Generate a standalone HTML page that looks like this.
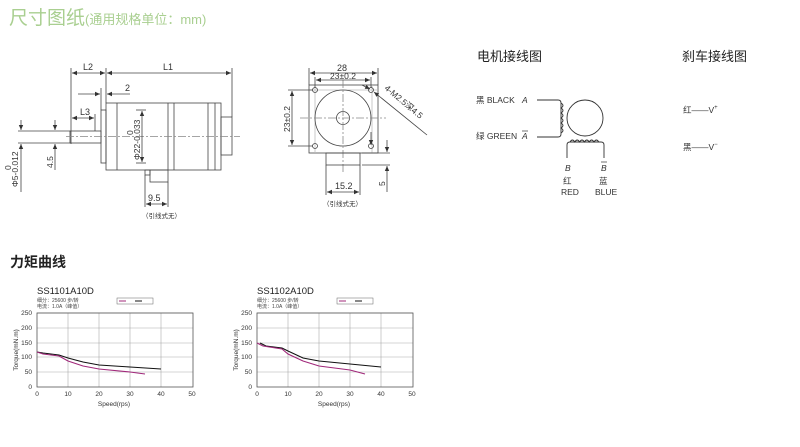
<!DOCTYPE html>
<html><head><meta charset="utf-8"><style>
html,body{margin:0;padding:0;background:#fff;width:800px;height:447px;overflow:hidden}
svg{display:block}
text{font-family:"Liberation Sans","Noto Sans CJK SC",sans-serif}
</style></head><body>
<svg width="800" height="447" viewBox="0 0 800 447" xmlns="http://www.w3.org/2000/svg">
<defs>
<marker id="a" markerWidth="6" markerHeight="6" refX="5" refY="3" orient="auto-start-reverse" markerUnits="userSpaceOnUse"><path d="M0,0.8 L5,3 L0,5.2z" fill="#333"/></marker>
</defs>
<!-- title -->
<text x="9" y="24" font-size="19" fill="#a9cf90">尺寸图纸<tspan font-size="13">(通用规格单位：mm)</tspan></text>

<g stroke="#444" stroke-width="0.8" fill="none">
<!-- side view -->
<line x1="71" y1="68" x2="71" y2="144"/>
<line x1="106" y1="68" x2="106" y2="103"/>
<line x1="232" y1="68" x2="232" y2="117"/>
<line x1="72" y1="73" x2="105" y2="73" marker-start="url(#a)" marker-end="url(#a)"/>
<line x1="107" y1="73" x2="231" y2="73" marker-start="url(#a)" marker-end="url(#a)"/>
<line x1="101" y1="88" x2="101" y2="110"/>
<line x1="78" y1="94" x2="100" y2="94" marker-end="url(#a)"/>
<line x1="130" y1="94" x2="107" y2="94" marker-end="url(#a)"/>
<line x1="72" y1="118" x2="94" y2="118" marker-start="url(#a)" marker-end="url(#a)"/>
<line x1="95" y1="114" x2="95" y2="131"/>
<rect x="101" y="110" width="5" height="53"/>
<rect x="106" y="103" width="115" height="67"/>
<line x1="117" y1="103" x2="117" y2="170"/>
<line x1="168" y1="103" x2="168" y2="170"/>
<line x1="174" y1="103" x2="174" y2="170"/>
<line x1="208" y1="103" x2="208" y2="170"/>
<line x1="215" y1="103" x2="215" y2="170"/>
<rect x="221" y="117" width="11" height="38"/>
<rect x="70" y="131" width="31" height="12"/>
<line x1="66" y1="136.5" x2="240" y2="136.5" stroke-dasharray="8,2,2,2" stroke="#888"/>
<line x1="18" y1="131" x2="70" y2="131"/>
<line x1="18" y1="143" x2="70" y2="143"/>
<line x1="21" y1="120" x2="21" y2="130" marker-end="url(#a)"/>
<line x1="21" y1="192" x2="21" y2="144" marker-end="url(#a)"/>
<line x1="55" y1="120" x2="55" y2="130" marker-end="url(#a)"/>
<line x1="55" y1="170" x2="55" y2="144" marker-end="url(#a)"/>
<line x1="142" y1="111" x2="142" y2="162" marker-start="url(#a)" marker-end="url(#a)"/>
<line x1="136" y1="110" x2="146" y2="110"/><line x1="136" y1="163" x2="146" y2="163"/>
<rect x="150" y="170" width="18" height="12"/>
<rect x="145" y="170" width="5" height="5"/>
<line x1="145" y1="175" x2="145" y2="207"/>
<line x1="168" y1="182" x2="168" y2="207"/>
<line x1="146" y1="204" x2="167" y2="204" marker-start="url(#a)" marker-end="url(#a)"/>

<!-- front view -->
<rect x="309" y="85" width="69" height="68"/>
<line x1="315" y1="85" x2="315" y2="153" stroke="#bbb"/>
<line x1="372" y1="85" x2="372" y2="153" stroke="#bbb"/>
<line x1="309" y1="90" x2="378" y2="90" stroke="#bbb"/>
<circle cx="343" cy="118" r="28"/>
<circle cx="343" cy="118" r="6.5"/>
<circle cx="315" cy="90" r="2.5"/><circle cx="371" cy="90" r="2.5"/>
<circle cx="315" cy="146" r="2.5"/><circle cx="371" cy="146" r="2.5"/>
<line x1="343" y1="80" x2="343" y2="172" stroke-dasharray="8,2,2,2" stroke="#888"/>
<line x1="300" y1="118" x2="386" y2="118" stroke-dasharray="8,2,2,2" stroke="#888"/>
<rect x="326" y="153" width="34" height="12"/>
<line x1="309" y1="68" x2="309" y2="85"/><line x1="378" y1="68" x2="378" y2="85"/>
<line x1="310" y1="73" x2="377" y2="73" marker-start="url(#a)" marker-end="url(#a)"/>
<line x1="315" y1="77" x2="315" y2="88"/><line x1="371" y1="77" x2="371" y2="88"/>
<line x1="316" y1="80" x2="370" y2="80" marker-start="url(#a)" marker-end="url(#a)"/>
<line x1="288" y1="90" x2="313" y2="90"/><line x1="288" y1="146" x2="313" y2="146"/>
<line x1="292" y1="91" x2="292" y2="145" marker-start="url(#a)" marker-end="url(#a)"/>
<line x1="326" y1="165" x2="326" y2="195"/><line x1="360" y1="165" x2="360" y2="195"/>
<line x1="327" y1="192" x2="359" y2="192" marker-start="url(#a)" marker-end="url(#a)"/>
<line x1="362" y1="153" x2="390" y2="153"/><line x1="362" y1="165" x2="390" y2="165"/>
<line x1="387" y1="140" x2="387" y2="152" marker-end="url(#a)"/>
<line x1="387" y1="192" x2="387" y2="166" marker-end="url(#a)"/>
<line x1="427" y1="135" x2="374" y2="92" marker-end="url(#a)"/>
<line x1="362" y1="85" x2="370" y2="89" marker-end="url(#a)"/>
<line x1="371" y1="132" x2="371" y2="145" marker-end="url(#a)"/>
</g>
<g font-size="9" fill="#333">
<text x="83" y="70">L2</text>
<text x="163" y="70">L1</text>
<text x="125" y="91">2</text>
<text x="80" y="115">L3</text>
<text x="148" y="201">9.5</text>
<text x="142" y="218" font-size="6.5">（引线式无）</text>
<text transform="translate(11,170) rotate(-90)" font-size="8.5">0</text>
<text transform="translate(18,187) rotate(-90)" font-size="8.5">Φ5-0.012</text>
<text transform="translate(53,168) rotate(-90)" font-size="8.5">4.5</text>
<text transform="translate(133,135) rotate(-90)" font-size="8.5">0</text>
<text transform="translate(140,160) rotate(-90)" font-size="8.5">Φ22-0.033</text>
<text x="337" y="71">28</text>
<text x="330" y="79" font-size="8.5">23±0.2</text>
<text transform="translate(290,132) rotate(-90)" font-size="8.5">23±0.2</text>
<text x="335" y="189">15.2</text>
<text transform="translate(385,186) rotate(-90)" font-size="8.5">5</text>
<text transform="translate(384,89) rotate(40)" font-size="8.5">4-M2.5深4.5</text>
<text x="323" y="206" font-size="6.5">（引线式无）</text>
</g>

<!-- wiring -->
<g font-size="13" fill="#222">
<text x="477" y="61">电机接线图</text>
<text x="682" y="61">刹车接线图</text>
</g>
<g font-size="8.5" fill="#333">
<text x="476" y="103">黑 BLACK</text>
<text x="476" y="139">绿 GREEN</text>
<text x="522" y="103" font-style="italic">A</text>
<text x="522" y="139" font-style="italic">A</text>
<line x1="522" y1="131" x2="528" y2="131" stroke="#333" stroke-width="0.7"/>
<text x="565" y="171" font-style="italic">B</text>
<text x="601" y="171" font-style="italic">B</text>
<line x1="601" y1="162" x2="607" y2="162" stroke="#333" stroke-width="0.7"/>
<text x="563" y="184">红</text><text x="561" y="195">RED</text>
<text x="599" y="184">蓝</text><text x="595" y="195">BLUE</text>
<text x="683" y="113">红——V<tspan dy="-4" font-size="6">+</tspan></text>
<text x="683" y="150">黑——V<tspan dy="-4" font-size="6">−</tspan></text>
</g>
<g stroke="#333" stroke-width="0.9" fill="none">
<path d="M537,100 H558 Q561,100 561,103 V134 Q561,137 558,137 H537"/>
<path d="M561,103 q4,2.5 0,5 q4,2.5 0,5 q4,2.5 0,5 q4,2.5 0,5 q4,2.5 0,5 q4,2.5 0,5"/>
<circle cx="585" cy="118" r="18"/>
<path d="M567,158 V145 Q567,142 570,142 H601 Q604,142 604,145 V158"/>
<path d="M570,142 q2.4,-4 4.8,0 q2.4,-4 4.8,0 q2.4,-4 4.8,0 q2.4,-4 4.8,0 q2.4,-4 4.8,0 q2.4,-4 4.8,0"/>
</g>

<!-- torque -->
<text x="10" y="267" font-size="14" fill="#222" font-weight="bold">力矩曲线</text>

<g id="c1">
<text x="37" y="294" font-size="9.5" fill="#222">SS1101A10D</text>
<text x="37" y="302" font-size="5" fill="#444">细分：25600 步/转</text>
<text x="37" y="308" font-size="5" fill="#444">电流：1.0A（峰值）</text>
<rect x="117" y="298" width="36" height="6" fill="#fff" stroke="#666" stroke-width="0.5"/>
<line x1="119" y1="301" x2="126" y2="301" stroke="#a0287a" stroke-width="1"/>
<line x1="135" y1="301" x2="142" y2="301" stroke="#111" stroke-width="1"/>
<g stroke="#aaa" stroke-width="0.6">
<line x1="37" y1="313" x2="193" y2="313"/><line x1="37" y1="328" x2="193" y2="328"/><line x1="37" y1="343" x2="193" y2="343"/><line x1="37" y1="357" x2="193" y2="357"/><line x1="37" y1="372" x2="193" y2="372"/>
<line x1="68" y1="313" x2="68" y2="387"/><line x1="99" y1="313" x2="99" y2="387"/><line x1="130" y1="313" x2="130" y2="387"/><line x1="161" y1="313" x2="161" y2="387"/>
</g>
<rect x="37" y="313" width="156" height="74" fill="none" stroke="#555" stroke-width="0.8"/>
<g font-size="6.5" fill="#333" text-anchor="end">
<text x="32" y="315">250</text><text x="32" y="330">200</text><text x="32" y="345">150</text><text x="32" y="359">100</text><text x="32" y="374">50</text><text x="32" y="389">0</text>
</g>
<g font-size="6.5" fill="#333" text-anchor="middle">
<text x="37" y="396">0</text><text x="68" y="396">10</text><text x="99" y="396">20</text><text x="130" y="396">30</text><text x="161" y="396">40</text><text x="192" y="396">50</text>
<text x="114" y="406">Speed(rps)</text>
<text transform="translate(18,350) rotate(-90)">Torque(mN.m)</text>
</g>
<polyline fill="none" stroke="#111" stroke-width="1.1" points="37,352 43,353 59,355 68,358 83,362 99,365 130,367 161,369"/>
<polyline fill="none" stroke="#a0287a" stroke-width="1.1" points="37,352 43,354 59,356 68,361 83,366 99,369 130,372 145,374"/>
</g>

<g transform="translate(220,0)">
<text x="37" y="294" font-size="9.5" fill="#222">SS1102A10D</text>
<text x="37" y="302" font-size="5" fill="#444">细分：25600 步/转</text>
<text x="37" y="308" font-size="5" fill="#444">电流：1.0A（峰值）</text>
<rect x="117" y="298" width="36" height="6" fill="#fff" stroke="#666" stroke-width="0.5"/>
<line x1="119" y1="301" x2="126" y2="301" stroke="#a0287a" stroke-width="1"/>
<line x1="135" y1="301" x2="142" y2="301" stroke="#111" stroke-width="1"/>
<g stroke="#aaa" stroke-width="0.6">
<line x1="37" y1="313" x2="193" y2="313"/><line x1="37" y1="328" x2="193" y2="328"/><line x1="37" y1="343" x2="193" y2="343"/><line x1="37" y1="357" x2="193" y2="357"/><line x1="37" y1="372" x2="193" y2="372"/>
<line x1="68" y1="313" x2="68" y2="387"/><line x1="99" y1="313" x2="99" y2="387"/><line x1="130" y1="313" x2="130" y2="387"/><line x1="161" y1="313" x2="161" y2="387"/>
</g>
<rect x="37" y="313" width="156" height="74" fill="none" stroke="#555" stroke-width="0.8"/>
<g font-size="6.5" fill="#333" text-anchor="end">
<text x="32" y="315">250</text><text x="32" y="330">200</text><text x="32" y="345">150</text><text x="32" y="359">100</text><text x="32" y="374">50</text><text x="32" y="389">0</text>
</g>
<g font-size="6.5" fill="#333" text-anchor="middle">
<text x="37" y="396">0</text><text x="68" y="396">10</text><text x="99" y="396">20</text><text x="130" y="396">30</text><text x="161" y="396">40</text><text x="192" y="396">50</text>
<text x="114" y="406">Speed(rps)</text>
<text transform="translate(18,350) rotate(-90)">Torque(mN.m)</text>
</g>
<polyline fill="none" stroke="#111" stroke-width="1.1" points="40,343 46,346 62,348 68,351 83,358 99,361 130,364 161,367"/>
<polyline fill="none" stroke="#a0287a" stroke-width="1.1" points="37,343 43,346 62,349 68,354 83,361 99,366 130,370 145,374"/>
</g>
</svg>
</body></html>
